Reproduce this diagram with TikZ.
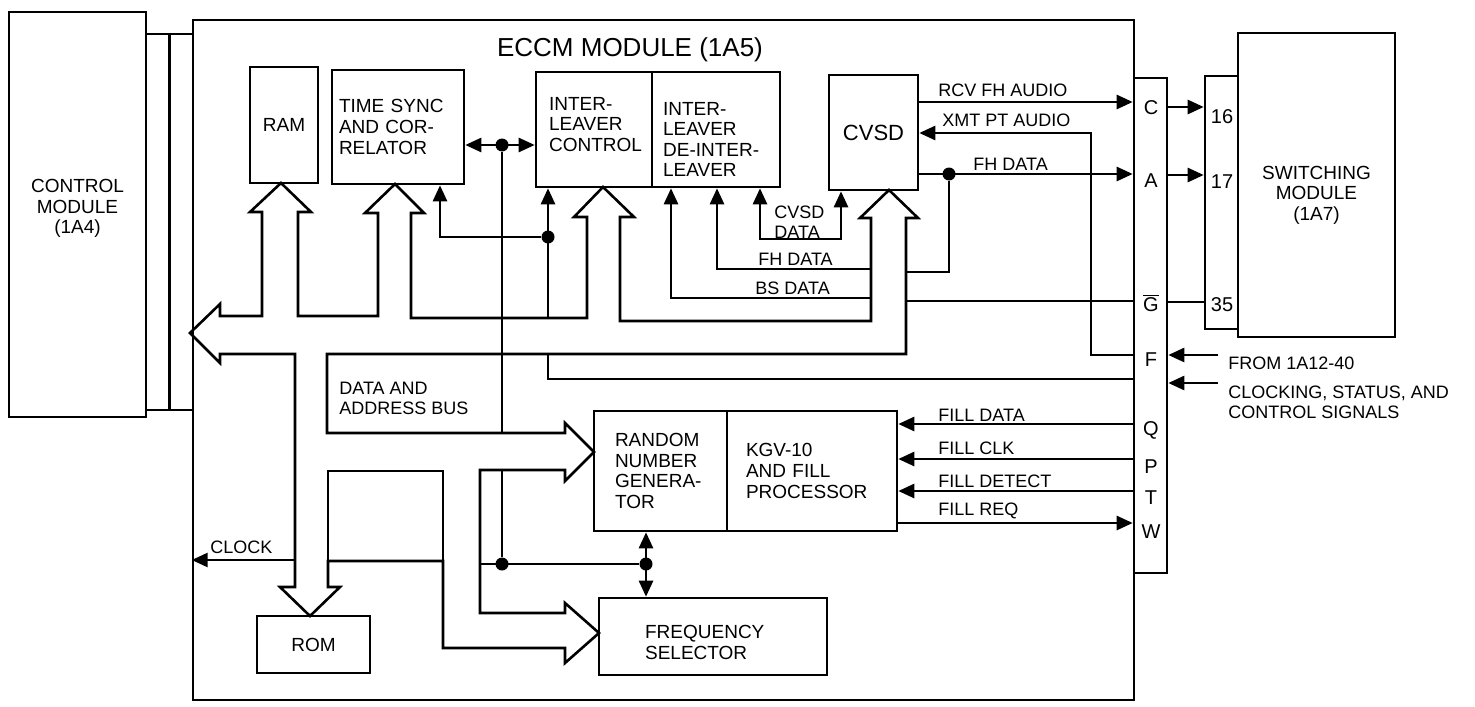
\documentclass[tikz,border=0pt]{standalone}
\usepackage{fontspec}
\setmainfont{Liberation Sans}
\usetikzlibrary{arrows.meta, positioning, calc}
\tikzstyle{block} = [
    rectangle,
    draw,
    line width=1.3pt,
    inner sep=0pt,
    font=\fontsize{9.5}{10.3}\selectfont
]
\tikzstyle{blocktext} = [
    inner sep=0pt,
    align=left,
    font=\fontsize{9.5}{10.3}\selectfont
]
\tikzstyle{lbl} = [
    inner sep=0pt,
    font=\fontsize{9}{10}\selectfont
]
\tikzstyle{pinlbl} = [
    inner sep=0pt,
    font=\fontsize{10}{11}\selectfont
]
\tikzstyle{junction} = [
    circle,
    fill,
    inner sep=0pt,
    minimum size=6.5pt
]
\tikzstyle{wire} = [
    line width=1.3pt
]
\tikzstyle{arrow} = [
    wire,
    -{Triangle[length=8pt, width=7pt]}
]
\tikzstyle{dblarrow} = [
    wire,
    {Triangle[length=8pt, width=7pt]}-{Triangle[length=8pt, width=7pt]}
]
\tikzstyle{bus} = [
    line width=1.3pt,
    line join=miter
]
\begin{document}
\begin{tikzpicture}[x=0.5pt, y=-0.5pt]
        \useasboundingbox (0,0) rectangle (1475,706);
        % Modules
        \node[block, minimum width=68.5pt, minimum height=202.5pt] (ctrl) at (77.5,214.5) {};
        \node[blocktext, align=center] (ctrltxt) at ([yshift=3pt]ctrl.center) {CONTROL\\MODULE\\(1A4)};
        \node[block, minimum width=23.5pt, minimum height=188pt] (ctrlcon) at (169.5,222) {};
        \draw[wire] (ctrlcon.north) -- (ctrlcon.south);
        \node[block, minimum width=470.5pt, minimum height=340pt] (eccm) at (663.5,360) {};
        \node[lbl, font=\fontsize{13}{15}\selectfont] (title) at (630,50) {ECCM MODULE (1A5)};
        \node[block, minimum width=16.5pt, minimum height=247.5pt] (pins) at (1150.5,325.5) {};
        \node[block, minimum width=16.5pt, minimum height=126.5pt] (swpins) at (1221.5,202.5) {};
        \node[block, minimum width=78.5pt, minimum height=152pt] (sw) at (1316.5,185) {};
        \node[blocktext, align=center] (swtxt) at ([yshift=-5pt]sw.center) {SWITCHING\\MODULE\\(1A7)};

        % Connector pins
        \foreach \p/\y in {C/108, A/181, F/360, Q/430, P/467, T/498, W/532}
            \node[pinlbl] (pin\p) at (1151,\y) {\p};
        \node[pinlbl] (pinG) at (1151,303) {$\overline{\mbox{G}}$};
        \foreach \n/\y in {16/117, 17/182, 35/305}
            \node[pinlbl] (sw\n) at (1222,\y) {\n};

        % Blocks inside ECCM
        \node[block, minimum width=34pt, minimum height=58pt] (ram) at (284,125) {RAM};
        \node[block, minimum width=66pt, minimum height=57pt, inner xsep=3.5pt, text width=59pt, align=left] (tsync) at (398,127) {TIME SYNC\\AND COR-\\RELATOR};
        \node[block, minimum width=58pt, minimum height=57.5pt] (ilc) at (594,129.5) {};
        \node[blocktext, anchor=west] (ilctxt) at ([xshift=7pt, yshift=2.5pt]ilc.west) {INTER-\\LEAVER\\CONTROL};
        \node[block, minimum width=64pt, minimum height=57.5pt] (ild) at (716,129.5) {};
        \node[blocktext, anchor=west] (ildtxt) at ([xshift=6pt, yshift=-5pt]ild.west) {INTER-\\LEAVER\\DE-INTER-\\LEAVER};
        \node[block, minimum width=44.5pt, minimum height=57.5pt, font=\fontsize{11}{12}\selectfont] (cvsd) at (873.5,132.5) {CVSD};
        \node[block, minimum width=66.5pt, minimum height=60pt, inner xsep=10.5pt, text width=45.5pt, align=left] (rng) at (660.5,471) {RANDOM\\NUMBER\\GENERA-\\TOR};
        \node[block, minimum width=85pt, minimum height=60pt, inner xsep=9.5pt, text width=66pt, align=left] (kgv) at (812,471) {KGV-10\\AND FILL\\PROCESSOR\\[10.3pt]};
        \node[block, minimum width=114pt, minimum height=38.5pt] (fs) at (713,636.5) {};
        \node[blocktext, anchor=west] (fstxt) at ([xshift=23.5pt, yshift=-3pt]fs.west) {FREQUENCY\\SELECTOR};
        \node[block, minimum width=56.5pt, minimum height=28.5pt] (rom) at (313.5,644.5) {ROM};

        % Data and address bus
        \draw[bus] (190,333) -- (220,304) -- (220,316) -- (262,316) -- (262,212) -- (250,212) -- (281,183)
            -- (311,212) -- (298,212) -- (298,316) -- (378,316) -- (378,213) -- (365,213) -- (395,184)
            -- (424,213) -- (411,213) -- (411,318) -- (587,318) -- (587,217) -- (574,217) -- (603,187)
            -- (634,217) -- (620,217) -- (620,321) -- (871,321) -- (871,218) -- (860,218) -- (889,190)
            -- (918,218) -- (906,218) -- (906,354) -- (327,354) -- (327,433) -- (565,433) -- (565,423)
            -- (594,452) -- (565,481) -- (565,470) -- (480,470) -- (480,613) -- (565,613) -- (565,603)
            -- (599,633) -- (565,663) -- (565,648) -- (443,648) -- (443,561) -- (328,561) -- (328,587)
            -- (340,587) -- (310,616) -- (280,587) -- (295,587) -- (295,354) -- (220,354) -- (220,363) -- cycle;
        \draw[bus] (328,561) -- (328,471) -- (443,471) -- (443,561);
        \node[lbl, anchor=west, align=left] (buslbl) at (339,398) {DATA AND\\ADDRESS BUS};

        % Junctions and free ends
        \node[junction] (j0) at (502,145) {};
        \node[junction] (j1) at (548,237) {};
        \node[junction] (j5) at (502,564) {};
        \node[junction] (j6) at (646,564) {};
        \node[junction] (j7) at (949,174) {};
        \coordinate (ilcbus) at (548,318);
        \coordinate (fsbus) at (480,564);
        \coordinate (fhbus) at (871,269);
        \coordinate (bsbus) at (871,298);
        \coordinate (gbus) at (906,301);
        \coordinate (fbus) at (548,354);
        \coordinate (clkbus) at (295,560);
        \coordinate (fromsrc) at (1218,355);
        \coordinate (ctlsrc) at (1218,383);

        % Control lines inside ECCM
        \draw[dblarrow] (tsync.east |- j0) -- (ilc.west |- j0);
        \draw[wire] (j0) -- (j0 |- 0,433);
        \draw[wire] (j5 |- 0,470) -- (j5);
        \draw[wire] (fsbus) -- (j6);
        \draw[dblarrow] (rng.south -| j6) -- (fs.north -| j6);
        \draw[arrow] (j1) -| (tsync.south -| 440,0);
        \draw[arrow] (ilcbus) -- (ilc.south -| j1);
        \draw[dblarrow] (ild.south -| 760,0) |- (841,239) -- (cvsd.south -| 841,0);
        \draw[arrow] (fhbus) -| (ild.south -| 717,0);
        \draw[arrow] (bsbus) -| (ild.south -| 671,0);
        \draw[arrow] (clkbus) -- (eccm.west |- clkbus);
        \node[lbl, anchor=west, align=left] (cvsdlbl) at (774,222) {CVSD\\DATA};
        \node[lbl, anchor=west] (fhlbl) at (758,259) {FH DATA};
        \node[lbl, anchor=west] (bslbl) at (755,288) {BS DATA};
        \node[lbl, anchor=west] (clklbl) at (210,547) {CLOCK};

        % CVSD to connector
        \draw[arrow] (cvsd.east |- 0,102) -- (pins.west |- 0,102);
        \draw[arrow] (pins.west |- fromsrc) -| (1091,133) -- (cvsd.east |- 0,133);
        \draw[arrow] (cvsd.east |- j7) -- (pins.west |- j7);
        \draw[wire] (j7) |- (906,272);
        \draw[wire] (gbus) -- (pins.west |- gbus);
        \draw[wire] (fbus) |- (pins.west |- 0,379);
        \node[lbl, anchor=west] (rcvlbl) at (938,90) {RCV FH AUDIO};
        \node[lbl, anchor=west] (xmtlbl) at (942,120) {XMT PT AUDIO};
        \node[lbl, anchor=west] (fhdlbl) at (973,164) {FH DATA};

        % Fill lines
        \foreach \y in {424, 459, 491}
            \draw[arrow] (pins.west |- 0,\y) -- (kgv.east |- 0,\y);
        \draw[arrow] (kgv.east |- 0,523) -- (pins.west |- 0,523);
        \node[lbl, anchor=west] (filldata) at (938,415) {FILL DATA};
        \node[lbl, anchor=west] (fillclk) at (938,448) {FILL CLK};
        \node[lbl, anchor=west] (filldet) at (938,481) {FILL DETECT};
        \node[lbl, anchor=west] (fillreq) at (938,511) {FILL REQ};

        % Outside connections
        \draw[arrow] (pins.east |- 0,107) -- (swpins.west |- 0,107);
        \draw[arrow] (pins.east |- 0,175) -- (swpins.west |- 0,175);
        \draw[wire] (pins.east |- 0,302) -- (swpins.west |- 0,302);
        \draw[arrow] (fromsrc) -- (pins.east |- fromsrc);
        \draw[arrow] (ctlsrc) -- (pins.east |- ctlsrc);
        \node[lbl, anchor=west] (fromlbl) at (1228,363) {FROM 1A12-40};
        \node[lbl, anchor=west, align=left] (ctllbl) at (1228,402) {CLOCKING, STATUS, AND\\CONTROL SIGNALS};
    \end{tikzpicture}
\end{document}
